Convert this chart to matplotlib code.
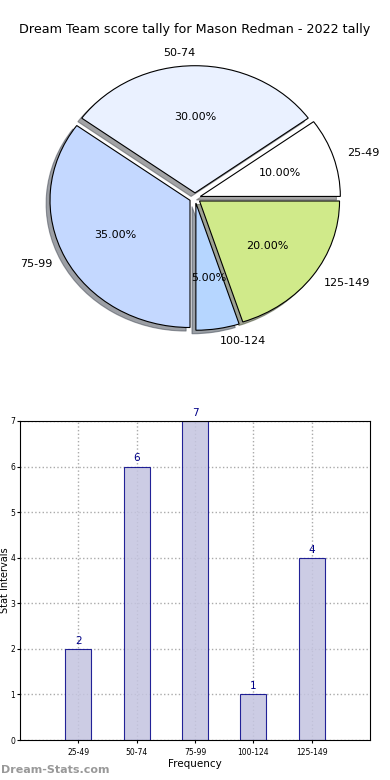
import matplotlib
matplotlib.use('Agg')
import matplotlib.pyplot as plt

labels = ['25-49', '50-74', '75-99', '100-124', '125-149']
counts = [2, 6, 7, 1, 4]
pie_colors = ['#ffffff', '#eaf1ff', '#c4d8ff', '#b6d6ff', '#d0ea8a']
title = 'Dream Team score tally for Mason Redman - 2022 tally'

fig = plt.figure(figsize=(3.9, 7.8), dpi=100)
fig.text(0.5, 1 - 30 / 780, title, ha='center', va='center', fontsize=9.2)

# pie on top (slightly stretched horizontally, like the original)
pw, ph = 350, 318
ax1 = fig.add_axes([(195 - pw / 2) / 390, 1 - (198 + ph / 2) / 780,
                    pw / 390, ph / 780])
wedges, texts, autotexts = ax1.pie(
    counts, labels=labels, colors=pie_colors, autopct='%.2f%%',
    explode=[0.04] * len(counts), shadow=True, startangle=0,
    wedgeprops=dict(edgecolor='black', linewidth=0.8),
    textprops=dict(fontsize=8))
ax1.set_aspect('auto')

# bar chart below
ax2 = fig.add_axes([20 / 390, 40 / 780, 350 / 390, 319 / 780])
xs = list(range(1, len(counts) + 1))
ax2.bar(xs, counts, width=0.45, color='#c4c4e0', alpha=0.85,
        edgecolor='#000088', linewidth=0.8, zorder=2)
for x, v in zip(xs, counts):
    ax2.text(x, v + 0.07, str(v), ha='center', va='bottom', fontsize=7.5,
             color='#000088')
ax2.set_xlim(0, 6)
ax2.set_ylim(0, 7)
ax2.set_xticks(xs)
ax2.set_xticklabels(labels)
ax2.set_yticks(range(0, 8))
ax2.tick_params(labelsize=5.5, length=2)
ax2.tick_params(axis='y', pad=1.5)
ax2.grid(True, linestyle=':', color='#aaaaaa', linewidth=1)
ax2.set_axisbelow(True)
ax2.set_xlabel('Frequency', fontsize=7.5, labelpad=2)
ax2.set_ylabel('Stat Intervals', fontsize=7)
ax2.yaxis.set_label_coords(-0.029, 0.5)

fig.text(0.003, 1 - 770 / 780, 'Dream-Stats.com', ha='left', va='center',
         fontsize=8, color='#999999', fontweight='bold')

fig.savefig('out.png', dpi=100, facecolor='white')
